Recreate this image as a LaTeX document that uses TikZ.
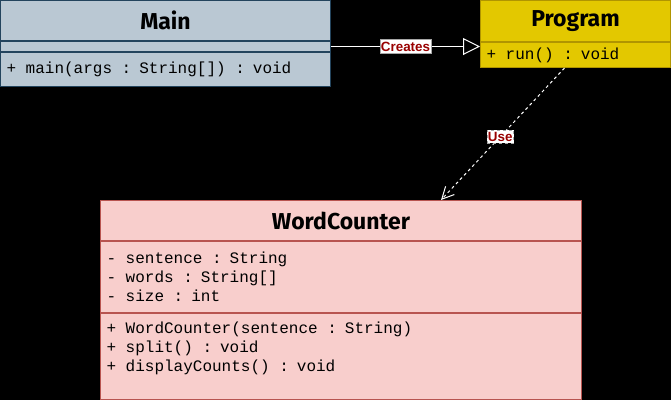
\documentclass[tikz,border=0pt]{standalone}
\usepackage{fontspec}
\setmonofont{Liberation Mono}
\newfontfamily\headfont{Fira Sans}
\newfontfamily\tagfont{Liberation Sans}
\usetikzlibrary {arrows,arrows.meta,positioning}
\definecolor{mainfill}{HTML}{BAC8D3}
\definecolor{mainline}{HTML}{23445D}
\definecolor{progfill}{HTML}{E3C800}
\definecolor{progline}{HTML}{B09500}
\definecolor{wcfill}{HTML}{F8CECC}
\definecolor{wcline}{HTML}{B85450}
\definecolor{tagred}{HTML}{990000}
\tikzset{classhead/.style={
    % The shape:
    rectangle,
    % The size:
    minimum height=40pt,
    inner sep=0pt,
    % The border:
    line width=1pt,
    % Font
    font=\headfont\bfseries\fontsize{23}{27}\selectfont
    },
    classbody/.style={
    rectangle,
    inner xsep=6pt,
    inner ysep=0pt,
    line width=1pt,
    align=left,
    font=\ttfamily\fontsize{16}{19}\selectfont,
    % full width spaces, as in the code
    execute at begin node=\spaceskip 9.6pt\relax,
    },
    edgelabel/.style={
    rectangle,
    fill=white,
    draw=black!35,
    line width=0.8pt,
    inner xsep=1pt,
    inner ysep=2pt,
    text=tagred,
    font=\tagfont\bfseries\fontsize{13.4}{15}\selectfont,
    },
}

\begin{document}
\begin{tikzpicture}[x=1pt,y=-1pt,node distance = 0pt]
    \fill[black] (0,0) rectangle (671,400);
    \useasboundingbox (0,0) rectangle (671,400);

    \node (maintitle) [classhead,draw=mainline,fill=mainfill,minimum width=330pt,anchor=north west] at (0,0) {Main};
    \node (mainattr)  [classbody,draw=mainline,fill=mainfill,text width=318pt,minimum height=10pt,below=of maintitle] {};
    \node (mainops)   [classbody,draw=mainline,fill=mainfill,text width=318pt,minimum height=34pt,below=of mainattr] {+ main(args : String[]) : void};

    \node (progtitle) [classhead,draw=progline,fill=progfill,minimum width=190pt,minimum height=41pt,anchor=north west] at (480,0) {Program};
    \node (progops)   [classbody,draw=progline,fill=progfill,text width=178pt,minimum height=25pt,below=of progtitle] {+ run() : void};

    \node (wctitle)   [classhead,draw=wcline,fill=wcfill,minimum width=481pt,anchor=north west] at (100,200) {WordCounter};
    \node (wcattr)    [classbody,draw=wcline,fill=wcfill,text width=469pt,minimum height=71pt,below=of wctitle] {- sentence : String\\- words : String[]\\- size : int};
    \node (wcops)     [classbody,draw=wcline,fill=wcfill,text width=469pt,minimum height=86pt,below=of wcattr] {+ WordCounter(sentence : String)\\+ split() : void\\+ displayCounts() : void\\ \mbox{}};

    \draw[white,line width=1pt,-{Triangle[open,length=17pt,width=17pt]}] (mainattr.east) -- (mainattr.east -| progtitle.west) node[edgelabel,midway] {Creates};
    \draw[white,line width=1pt,dash pattern=on 3pt off 3pt,-{Straight Barb[length=12pt,width=12pt]}] ([xshift=-11pt]progops.south) -- ([xshift=100pt]wctitle.north) node[edgelabel,pos=0.52] {Use};
  \end{tikzpicture}
\end{document}
